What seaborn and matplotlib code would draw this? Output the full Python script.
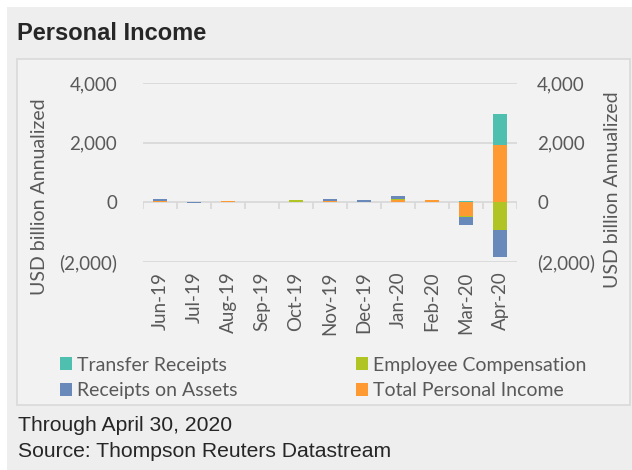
import numpy as np
import pandas as pd
import seaborn as sns
import matplotlib.pyplot as plt
from matplotlib.patches import Patch, Rectangle
from matplotlib.ticker import FuncFormatter

# data (USD billion annualized, monthly change)
months = ['Jun-19', 'Jul-19', 'Aug-19', 'Sep-19', 'Oct-19', 'Nov-19',
          'Dec-19', 'Jan-20', 'Feb-20', 'Mar-20', 'Apr-20']
total_income = [40, 5, 55, 20, 20, 60, 25, 80, 70, -470, 1930]
employee_comp = [0, 0, 0, 0, 45, 0, 0, 40, 0, -20, -930]
receipts_assets = [75, -30, 0, 0, 0, 55, 55, 90, 0, -280, -900]
transfer_receipts = [0, -5, 0, 0, 0, 0, 0, 0, 0, 60, 1020]

series_names = ['Total Personal Income', 'Employee Compensation',
                'Receipts on Assets', 'Transfer Receipts']
series_vals = [total_income, employee_comp, receipts_assets, transfer_receipts]
colors = {'Transfer Receipts': '#4fc0b0', 'Employee Compensation': '#b0c424',
          'Receipts on Assets': '#6a89bb', 'Total Personal Income': '#ff9a33'}

sns.set_style('white')
plt.rcParams['font.family'] = ['Lato', 'DejaVu Sans']
label_col = '#595959'
grid_col = '#d9d9d9'
W, H = 632, 470

fig = plt.figure(figsize=(6.32, 4.70), dpi=100)
fig.patch.set_facecolor('#eeeeee')
# white margins and inner panel
fig.add_artist(Rectangle((0, 1 - 7 / H), 1, 7 / H, transform=fig.transFigure,
                         facecolor='white', edgecolor='none', zorder=-2))
fig.add_artist(Rectangle((0, 0), 7 / W, 1, transform=fig.transFigure,
                         facecolor='white', edgecolor='none', zorder=-2))
fig.add_artist(Rectangle((17 / W, 1 - 405 / H), 613 / W, 346 / H,
                         transform=fig.transFigure, facecolor='#f2f2f2',
                         edgecolor=grid_col, linewidth=1.2, zorder=-1))

ax = fig.add_axes([143 / W, 1 - 262 / H, 374 / W, 179 / H])
ax.set_facecolor('none')

# stacked bars: positives and negatives stacked separately
pos_base = np.zeros(len(months))
neg_base = np.zeros(len(months))
for name, vals in zip(series_names, series_vals):
    vals = np.array(vals, dtype=float)
    bottom = np.where(vals >= 0, pos_base, neg_base)
    df = pd.DataFrame({'month': months, 'value': vals})
    sns.barplot(data=df, x='month', y='value', order=months, color=colors[name],
                saturation=1, width=0.41, errorbar=None, bottom=bottom, ax=ax,
                linewidth=0, zorder=3)
    pos_base += np.where(vals >= 0, vals, 0)
    neg_base += np.where(vals < 0, vals, 0)

ax.set_ylim(-2000, 4000)
ax.set_xlim(-0.5, len(months) - 0.5)
yticks = [-2000, 0, 2000, 4000]
fmt = FuncFormatter(lambda v, p: f'({abs(v):,.0f})' if v < 0 else f'{v:,.0f}')
ax.set_yticks(yticks)
ax.yaxis.set_major_formatter(fmt)
ax.yaxis.grid(True, color=grid_col, linewidth=1.3, zorder=0)
ax.set_axisbelow(True)
for s in ax.spines.values():
    s.set_visible(False)
ax.tick_params(axis='y', length=0, pad=18.5, labelsize=13.5, labelcolor=label_col)
ax.tick_params(axis='x', length=0, pad=7, labelsize=13.5, labelcolor=label_col,
               labelrotation=90)
ax.set_xlabel('')
ax.set_ylabel('USD billion Annualized', fontsize=14, color=label_col)
ax.yaxis.set_label_coords(-0.254, 0.363)

# category tick marks hanging from the zero line
bounds = np.arange(len(months) + 1) - 0.5
ax.vlines(bounds, -235, 0, color=grid_col, linewidth=1.3, zorder=1)

ax2 = ax.twinx()
ax2.set_ylim(-2000, 4000)
ax2.set_yticks(yticks)
ax2.yaxis.set_major_formatter(fmt)
for s in ax2.spines.values():
    s.set_visible(False)
ax2.tick_params(axis='y', length=0, pad=14.4, labelsize=13.5, labelcolor=label_col)
ax2.set_ylabel('USD billion Annualized', fontsize=14, color=label_col, rotation=90)
ax2.yaxis.set_label_coords(1.2326, 0.402)

# legend: two separate columns
leg_kw = dict(frameon=False, fontsize=14, labelcolor=label_col, handlelength=0.62,
              handleheight=0.62, handletextpad=0.27, labelspacing=0.45,
              borderpad=0, borderaxespad=0, loc='center left')
col1 = ['Transfer Receipts', 'Receipts on Assets']
col2 = ['Employee Compensation', 'Total Personal Income']
leg1 = fig.legend(handles=[Patch(facecolor=colors[n], edgecolor='none', label=n) for n in col1],
                  bbox_to_anchor=(60 / W, 1 - 378 / H), **leg_kw)
leg2 = fig.legend(handles=[Patch(facecolor=colors[n], edgecolor='none', label=n) for n in col2],
                  bbox_to_anchor=(356 / W, 1 - 378 / H), **leg_kw)

fig.text(17 / W, 1 - 40 / H, 'Personal Income', fontsize=17, fontweight='bold',
         family='Liberation Sans', va='baseline')
fig.text(18 / W, 1 - 431 / H, 'Through April 30, 2020', fontsize=15.2,
         family='Liberation Sans', va='baseline')
fig.text(18 / W, 1 - 457 / H, 'Source: Thompson Reuters Datastream',
         fontsize=15.2, family='Liberation Sans', va='baseline')

fig.savefig('out.png', dpi=100, facecolor=fig.get_facecolor())
